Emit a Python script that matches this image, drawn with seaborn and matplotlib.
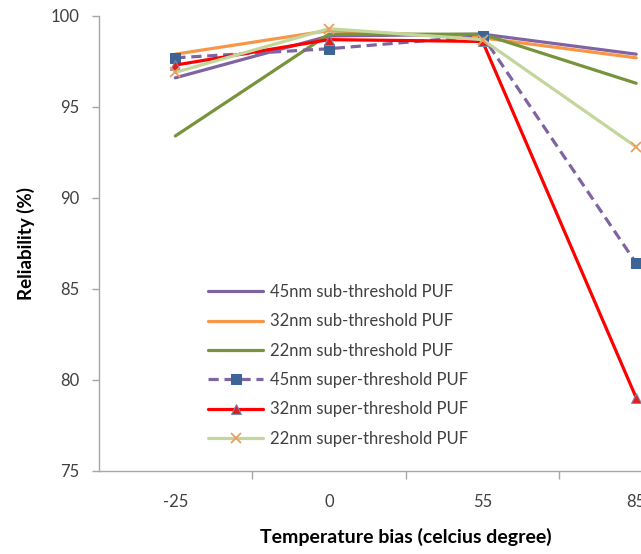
import matplotlib
matplotlib.use("Agg")
import matplotlib.pyplot as plt
import seaborn as sns
import pandas as pd

sns.set_theme(style="white")
plt.rcParams["font.family"] = ["Lato", "DejaVu Sans"]

# Temperature bias categories (celcius degree)
temperatures = ["-25", "0", "55", "85"]

# Reliability (%) for each PUF design
sub45 = [96.6, 98.9, 99.0, 97.9]
sub32 = [97.9, 99.2, 98.8, 97.7]
sub22 = [93.4, 99.0, 99.0, 96.3]
super45 = [97.7, 98.2, 98.9, 86.4]
super32 = [97.3, 98.7, 98.6, 79.0]
super22 = [96.9, 99.3, 98.7, 92.8]

series_names = [
    "45nm sub-threshold PUF",
    "32nm sub-threshold PUF",
    "22nm sub-threshold PUF",
    "45nm super-threshold PUF",
    "32nm super-threshold PUF",
    "22nm super-threshold PUF",
]
series_values = [sub45, sub32, sub22, super45, super32, super22]

styles = {
    "45nm sub-threshold PUF": dict(color="#8064A2", linestyle="-", marker=None),
    "32nm sub-threshold PUF": dict(color="#F79646", linestyle="-", marker=None),
    "22nm sub-threshold PUF": dict(color="#77933C", linestyle="-", marker=None),
    "45nm super-threshold PUF": dict(color="#8064A2", linestyle=(0, (3.2, 1.8)), marker="s",
                                     markerfacecolor="#3C6496", markeredgecolor="#3C6496",
                                     markersize=7.5),
    "32nm super-threshold PUF": dict(color="#FF0000", linestyle="-", marker="^",
                                     markerfacecolor="#E0201E", markeredgecolor="#7A8CB0",
                                     markersize=7),
    "22nm super-threshold PUF": dict(color="#C3D69B", linestyle="-", marker="x",
                                     markeredgecolor="#E8A064", markersize=7.5,
                                     markeredgewidth=1.3),
}

df = pd.DataFrame({
    "temperature": temperatures * len(series_names),
    "reliability": [v for vals in series_values for v in vals],
    "series": [name for name in series_names for _ in temperatures],
})

fig = plt.figure(figsize=(6.41, 5.54), dpi=100)
ax = fig.add_axes([98.5 / 641, 1 - 470.5 / 554, (713 - 98.5) / 641, (470.5 - 16) / 554])

for name in series_names:
    sub = df[df["series"] == name]
    st = dict(styles[name])
    sns.lineplot(data=sub, x="temperature", y="reliability", ax=ax, label=name,
                 linewidth=2.3, sort=False, **st)

ax.set_xlim(-0.5, 3.5)
ax.set_ylim(75, 100)
ax.set_yticks([75, 80, 85, 90, 95, 100])
ax.set_xticks(range(len(temperatures)))
ax.set_xticklabels(temperatures)
ax.set_xticks([0.5, 1.5, 2.5], minor=True)

for side in ["top", "right"]:
    ax.spines[side].set_visible(False)
for side in ["left", "bottom"]:
    ax.spines[side].set_color("#A6A6A6")
    ax.spines[side].set_linewidth(1.0)

ax.tick_params(axis="x", which="major", length=0, pad=17, labelsize=12, labelcolor="#404040")
ax.tick_params(axis="x", which="minor", length=6, width=1, color="#A6A6A6", direction="out", bottom=True)
ax.tick_params(axis="y", which="major", length=5, width=1, color="#A6A6A6", direction="out",
               left=True, pad=9, labelsize=12, labelcolor="#404040")

ax.set_xlabel("Temperature bias (celcius degree)", fontsize=14, fontweight="bold",
              color="black", labelpad=13)
ax.set_ylabel("Reliability (%)", fontsize=13.5, fontweight="bold", color="black", labelpad=11)

leg = ax.legend(loc="upper left", bbox_to_anchor=(208 / 641, 1 - 284 / 554),
                bbox_transform=fig.transFigure, frameon=False, fontsize=12,
                handlelength=3.3, handletextpad=0.45, labelspacing=0.8,
                borderaxespad=0, borderpad=0)
for txt in leg.get_texts():
    txt.set_color("#404040")

fig.savefig("out.png", dpi=100)
